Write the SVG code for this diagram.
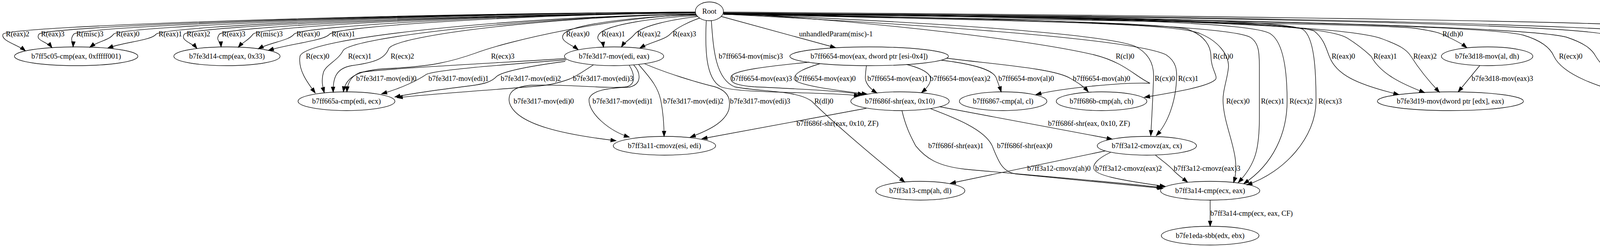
<svg xmlns="http://www.w3.org/2000/svg" width="5012" height="632" viewBox="0 0 5012 632">
<style>
.n ellipse{fill:none;stroke:#000;stroke-width:1.33}
text{font-family:"Liberation Serif","Times New Roman",serif;font-size:18.67px;fill:#000;text-anchor:middle}
.e path{fill:none;stroke:#000;stroke-width:1.33;marker-end:url(#a)}
</style>
<defs>
<marker id="a" markerWidth="15" markerHeight="11" refX="13.3" refY="4.67" orient="auto" markerUnits="userSpaceOnUse" overflow="visible">
<path d="M0,0 L13.3,4.67 L0,9.33 z" fill="#000" stroke="#000" stroke-width="1.33"/>
</marker>
</defs>
<rect width="5012" height="632" fill="#fff"/>
<g id="connectors" class="e">
<path d="M1781,31 C983,35 38,66 8,87 C0,104 45,114 65,130"/>
<path d="M1781,31 C1025,35 130,66 100,87 C88,104 121,106 133,122"/>
<path d="M1781,31 C1065,35 219,66 189,87 C177,104 188,104 187,120"/>
<path d="M1781,31 C1110,35 321,66 291,87 C279,104 251,105 230,121"/>
<path d="M1781,31 C1160,35 430,66 400,87 C388,104 319,107 276,123"/>
<path d="M1781,33 C1192,37 502,66 472,87 C460,104 493,110 504,124"/>
<path d="M1781,33 C1232,37 592,66 562,87 C550,104 565,104 566,120"/>
<path d="M1781,33 C1271,37 678,66 648,87 C636,104 623,106 610,121"/>
<path d="M1781,33 C1318,37 783,66 753,87 C741,104 693,108 661,125"/>
<path d="M1781,33 C1359,37 874,66 844,87 C832,104 742,112 687,129"/>
<path d="M1782,36 C1330,42 780,95 768,144 C762,180 790,215 807,238"/>
<path d="M1782,36 C1378,42 895,95 878,130 C865,155 835,165 828,185 C822,205 826,222 830,237"/>
<path d="M1782,36 C1421,42 1010,90 995,125 C985,150 960,160 900,168 C860,175 852,200 853,236"/>
<path d="M1782,37 C1560,44 1300,105 1220,135 C1150,160 1100,170 1000,175 C920,178 885,195 879,235"/>
<path d="M1782,38 C1630,42 1463,62 1443,87 C1430,105 1465,115 1480,127"/>
<path d="M1784,40 C1680,45 1554,62 1534,87 C1522,104 1543,105 1545,121"/>
<path d="M1787,42 C1720,50 1645,65 1625,87 C1613,102 1600,106 1591,120"/>
<path d="M1792,46 C1765,55 1730,72 1716,87 C1702,102 1665,108 1638,123"/>
<path d="M1808,53 C1805,120 1805,200 1845,222 C1890,240 2100,234 2200,245"/>
<path d="M1821,53 C1826,120 1830,200 1880,222 C1940,235 2040,230 2078,259 C2150,330 2260,420 2316,466"/>
<path d="M1846,42 L2139,122"/>
<path d="M1852,33 C2250,55 2650,105 2800,140 C2880,160 2905,195 2944,213 C2880,210 2720,225 2652,242"/>
<path d="M1852,34 C2500,50 2950,55 3040,75 C3085,90 3100,120 3100,144 C3100,175 3118,195 3112,203 C3095,222 3000,237 2930,249"/>
<path d="M1852,35 C2350,55 2820,85 2905,118 C2945,138 2955,170 2953,201 C2951,260 2948,310 2946,347"/>
<path d="M1852,36 C2400,65 2900,100 2985,140 C3012,158 3013,180 3012,201 C3010,260 2990,315 2960,347"/>
<path d="M1852,36 C2700,55 3000,60 3070,85 C3120,105 3145,140 3145,170 C3143,200 3130,230 3131,259 C3133,330 3180,400 3158,467"/>
<path d="M1852,35 C2800,50 3150,70 3200,95 C3225,110 3224,140 3224,180 C3224,220 3224,259 3224,300 C3224,380 3215,420 3170,467"/>
<path d="M1852,35 C2900,45 3200,60 3250,85 C3285,105 3295,180 3295,259 C3295,340 3260,420 3184,470"/>
<path d="M1852,34 C3000,42 3290,55 3335,75 C3365,95 3369,180 3369,259 C3369,350 3290,440 3192,473"/>
<path d="M1852,35 C3000,45 3330,60 3365,80 C3390,100 3395,125 3403,144 C3420,190 3470,215 3581,242"/>
<path d="M1852,35 C3100,45 3400,65 3450,98 C3485,120 3500,135 3510,144 C3535,190 3590,215 3647,237"/>
<path d="M1852,35 C3150,45 3480,75 3540,100 C3580,115 3600,125 3612,144 C3635,180 3660,210 3685,236"/>
<path d="M1852,37 C2600,50 3500,60 3620,72 C3660,78 3680,82 3690,87 C3720,100 3740,110 3755,122"/>
<path d="M1852,35 C3300,50 3830,70 3900,90 C3950,105 3970,125 3978,144 C4000,190 4090,225 4203,249"/>
<path d="M1852,35 C3400,48 3930,75 4010,95 C4055,110 4075,125 4085,144 C4110,185 4160,215 4232,241"/>
<path d="M1852,34 C3500,45 4050,70 4120,90 C4160,105 4185,125 4198,150 C4225,190 4260,215 4286,236"/>
<path d="M1852,33 C3500,42 4100,72 4172,78 C4240,85 4280,115 4293,150 C4305,185 4315,210 4318,235"/>
<path d="M1852,31 C3000,38 4100,55 4250,68 C4330,75 4380,82 4405,90 C4450,103 4480,112 4508,122"/>
<path d="M1447,150 C1200,165 950,178 920,186 C900,195 890,210 888,235"/>
<path d="M1450,153 C1300,165 1120,178 1092,190 C1070,205 1030,225 977,240"/>
<path d="M1447,157 C1350,170 1290,182 1272,195 C1258,210 1240,215 1200,220 C1120,230 1050,240 1011,248"/>
<path d="M1519,166 C1490,185 1470,198 1456,203 C1430,212 1410,217 1380,220 C1200,235 1080,242 1017,250"/>
<path d="M1611,167 C1625,190 1628,215 1605,222 C1560,228 1450,215 1360,218 C1310,222 1300,240 1304,262 C1320,320 1450,345 1577,360"/>
<path d="M1622,166 C1640,185 1645,215 1611,223 C1560,225 1515,230 1508,253 C1505,290 1560,335 1611,351"/>
<path d="M1635,165 C1660,195 1685,220 1692,259 C1698,290 1700,320 1700,349"/>
<path d="M1650,163 C1700,185 1780,210 1830,222 C1870,235 1870,260 1866,280 C1855,315 1810,335 1767,351"/>
<path d="M2072,159 C1960,170 1880,180 1872,195 C1866,210 1880,218 1930,222 C2050,228 2150,232 2210,242"/>
<path d="M2099,163 C2060,175 2035,185 2033,201 C2032,218 2150,232 2220,241"/>
<path d="M2218,168 C2216,185 2214,200 2216,205 C2220,220 2232,230 2245,238"/>
<path d="M2321,165 C2360,175 2385,188 2382,205 C2380,218 2370,228 2359,237"/>
<path d="M2410,154 C2500,165 2545,180 2551,201 C2556,215 2560,225 2563,235"/>
<path d="M2424,149 C2550,165 2700,175 2741,201 C2765,215 2775,222 2786,235"/>
<path d="M2218,277 L1797,355"/>
<path d="M2405,273 L2847,356"/>
<path d="M2309,283 C2320,330 2335,355 2344,373 C2370,405 2400,425 2471,433 C2600,445 2850,465 2975,480"/>
<path d="M2382,278 C2440,300 2520,330 2540,373 C2555,410 2565,440 2600,445 C2750,460 2900,475 2977,482"/>
<path d="M2830,386 L2433,469"/>
<path d="M2843,390 C2810,405 2798,420 2800,431 C2803,448 2860,460 2983,477"/>
<path d="M2958,397 C2980,415 2995,425 3003,435 C3015,448 3030,458 3040,466"/>
<path d="M3098,512 L3098,579"/>
<path d="M3788,168 L3733,235"/>
<path d="M4438,161 C4380,175 4340,185 4334,205 C4328,220 4322,228 4320,235"/>
<path d="M4552,169 C4535,185 4520,200 4510,207 C4480,225 4445,235 4411,243"/>
<path d="M4655,166 C4675,178 4688,192 4683,205 C4670,228 4560,240 4440,251"/>
<path d="M4758,156 C4820,170 4850,185 4846,205 C4835,235 4650,248 4445,256"/>
<g id="edge-labels">
<text x="45" y="93">R(eax)2</text>
<text x="135" y="93">R(eax)3</text>
<text x="230" y="93">R(misc)3</text>
<text x="327" y="93">R(eax)0</text>
<text x="436" y="93">R(eax)1</text>
<text x="508" y="93">R(eax)2</text>
<text x="598" y="93">R(eax)3</text>
<text x="689" y="93">R(misc)3</text>
<text x="789" y="93">R(eax)0</text>
<text x="879" y="93">R(eax)1</text>
<text x="813" y="150">R(ecx)0</text>
<text x="921" y="150">R(ecx)1</text>
<text x="1030" y="150">R(ecx)2</text>
<text x="1287" y="150">R(ecx)3</text>
<text x="1479" y="93">R(eax)0</text>
<text x="1570" y="93">R(eax)1</text>
<text x="1661" y="93">R(eax)2</text>
<text x="1752" y="93">R(eax)3</text>
<text x="989" y="207">b7fe3d17-mov(edi)0</text>
<text x="1174" y="207">b7fe3d17-mov(edi)1</text>
<text x="1359" y="207">b7fe3d17-mov(edi)2</text>
<text x="1544" y="207">b7fe3d17-mov(edi)3</text>
<text x="1392" y="265">b7fe3d17-mov(edi)0</text>
<text x="1594" y="265">b7fe3d17-mov(edi)1</text>
<text x="1775" y="265">b7fe3d17-mov(edi)2</text>
<text x="1946" y="265">b7fe3d17-mov(edi)3</text>
<text x="1922" y="150">b7ff6654-mov(misc)3</text>
<text x="2109" y="265">R(dl)0</text>
<text x="2140" y="93">unhandledParam(misc)-1</text>
<text x="1950" y="207">b7ff6654-mov(eax)3</text>
<text x="2113" y="207">b7ff6654-mov(eax)0</text>
<text x="2298" y="207">b7ff6654-mov(eax)1</text>
<text x="2458" y="207">b7ff6654-mov(eax)2</text>
<text x="2627" y="207">b7ff6654-mov(al)0</text>
<text x="2820" y="207">b7ff6654-mov(ah)0</text>
<text x="2880" y="150">R(cl)0</text>
<text x="3131" y="150">R(ch)0</text>
<text x="2982" y="207">R(cx)0</text>
<text x="3042" y="207">R(cx)1</text>
<text x="2788" y="322">b7ff686f-shr(eax, 0x10, ZF)</text>
<text x="2144" y="322">b7ff686f-shr(eax, 0x10, ZF)</text>
<text x="2447" y="379">b7ff686f-shr(eax)1</text>
<text x="2623" y="379">b7ff686f-shr(eax)0</text>
<text x="2711" y="437">b7ff3a12-cmovz(ah)0</text>
<text x="2889" y="437">b7ff3a12-cmovz(eax)2</text>
<text x="3090" y="437">b7ff3a12-cmovz(eax)3</text>
<text x="3169" y="265">R(ecx)0</text>
<text x="3258" y="265">R(ecx)1</text>
<text x="3331" y="265">R(ecx)2</text>
<text x="3405" y="265">R(ecx)3</text>
<text x="3204" y="552">b7ff3a14-cmp(ecx, eax, CF)</text>
<text x="3439" y="150">R(eax)0</text>
<text x="3546" y="150">R(eax)1</text>
<text x="3648" y="150">R(eax)2</text>
<text x="3719" y="93">R(dh)0</text>
<text x="3846" y="207">b7fe3d18-mov(eax)3</text>
<text x="4021" y="150">R(ecx)0</text>
<text x="4129" y="150">R(ecx)1</text>
<text x="4237" y="150">R(ecx)2</text>
<text x="4330" y="150">R(ecx)3</text>
<text x="4505" y="93">unhandledParam(misc)-1</text>
<text x="4418" y="207">b7ff6646-mov(eax)0</text>
<text x="4599" y="207">b7ff6646-mov(eax)1</text>
<text x="4765" y="207">b7ff6646-mov(eax)2</text>
<text x="4928" y="207">b7ff6646-mov(eax)3</text>
</g>
</g>
<g id="root" class="n"><ellipse cx="1816" cy="29" rx="36" ry="24"/><text x="1816" y="35">Root</text></g>
<g id="b7ff5c05" class="n"><ellipse cx="195" cy="144" rx="158" ry="24"/><text x="195" y="150">b7ff5c05-cmp(eax, 0xfffff001)</text></g>
<g id="b7fe3d14" class="n"><ellipse cx="581" cy="144" rx="136" ry="24"/><text x="581" y="150">b7fe3d14-cmp(eax, 0x33)</text></g>
<g id="b7fe3d17" class="n"><ellipse cx="1572" cy="144" rx="127" ry="24"/><text x="1572" y="150">b7fe3d17-mov(edi, eax)</text></g>
<g id="b7ff6654" class="n"><ellipse cx="2225" cy="144" rx="203" ry="24"/><text x="2225" y="150">b7ff6654-mov(eax, dword ptr [esi-0x4])</text></g>
<g id="b7fe3d18" class="n"><ellipse cx="3807" cy="144" rx="117" ry="24"/><text x="3807" y="150">b7fe3d18-mov(al, dh)</text></g>
<g id="b7ff6646" class="n"><ellipse cx="4583" cy="144" rx="203" ry="24"/><text x="4583" y="150">b7ff6646-mov(eax, dword ptr [esi-0x8])</text></g>
<g id="b7ff665a" class="n"><ellipse cx="887" cy="259" rx="124" ry="24"/><text x="887" y="265">b7ff665a-cmp(edi, ecx)</text></g>
<g id="b7ff686f" class="n"><ellipse cx="2304" cy="259" rx="126" ry="24"/><text x="2304" y="265">b7ff686f-shr(eax, 0x10)</text></g>
<g id="b7ff6867" class="n"><ellipse cx="2568" cy="259" rx="112" ry="24"/><text x="2568" y="265">b7ff6867-cmp(al, cl)</text></g>
<g id="b7ff686b" class="n"><ellipse cx="2820" cy="259" rx="116" ry="24"/><text x="2820" y="265">b7ff686b-cmp(ah, ch)</text></g>
<g id="b7fe3d19" class="n"><ellipse cx="3713" cy="259" rx="187" ry="24"/><text x="3713" y="265">b7fe3d19-mov(dword ptr [edx], eax)</text></g>
<g id="b7ff664c" class="n"><ellipse cx="4318" cy="259" rx="127" ry="24"/><text x="4318" y="265">b7ff664c-cmp(eax, ecx)</text></g>
<g id="b7ff3a11" class="n"><ellipse cx="1701" cy="373" rx="131" ry="24"/><text x="1701" y="379">b7ff3a11-cmovz(esi, edi)</text></g>
<g id="b7ff3a12" class="n"><ellipse cx="2936" cy="373" rx="127" ry="24"/><text x="2936" y="379">b7ff3a12-cmovz(ax, cx)</text></g>
<g id="b7ff3a13" class="n"><ellipse cx="2356" cy="488" rx="114" ry="24"/><text x="2356" y="494">b7ff3a13-cmp(ah, dl)</text></g>
<g id="b7ff3a14" class="n"><ellipse cx="3098" cy="488" rx="127" ry="24"/><text x="3098" y="494">b7ff3a14-cmp(ecx, eax)</text></g>
<g id="b7fe1eda" class="n"><ellipse cx="3098" cy="603" rx="125" ry="24"/><text x="3098" y="609">b7fe1eda-sbb(edx, ebx)</text></g>
</svg>
